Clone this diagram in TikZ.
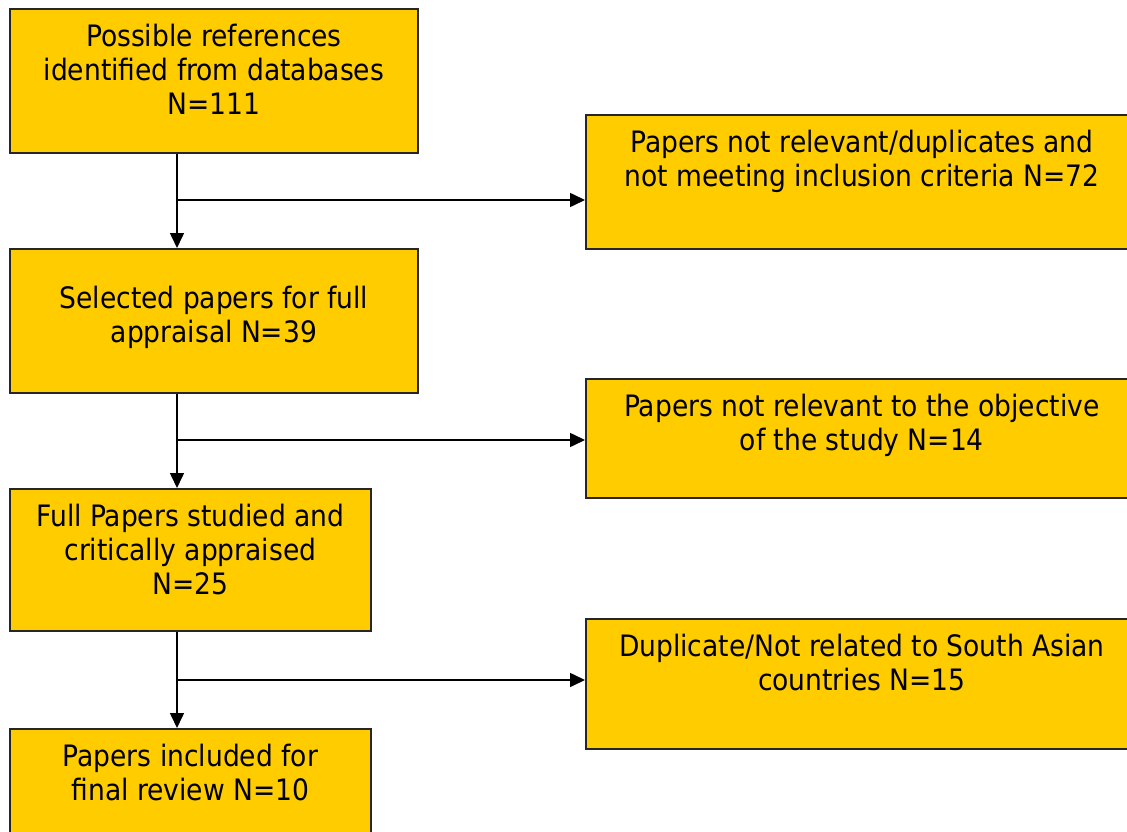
\documentclass[tikz,border=0pt]{standalone}
\usepackage{fontspec}
\setmainfont{DejaVu Sans Condensed}
\usetikzlibrary{arrows.meta,positioning}
\definecolor{boxfill}{RGB}{255,204,0}
\begin{document}
\begin{tikzpicture}[
    x=1pt, y=-1pt,
    font=\fontsize{29.5}{34}\selectfont,
    box/.style={draw=black!85, line width=1.8pt, fill=boxfill, anchor=north west, inner sep=0pt},
    txt/.style={anchor=north, align=center, inner sep=0pt},
    flow/.style={-{Triangle[length=15pt,width=14pt]}, line width=1.6pt}
]

\useasboundingbox (0,0) rectangle (1127,832);
\clip (0,0) rectangle (1127,832);

% Left column
\node[box, minimum width=408, minimum height=144] (b1) at (9,8) {};
\node[box, minimum width=408, minimum height=144] (b2) at (9,248) {};
\node[box, minimum width=361, minimum height=142] (b3) at (9,488) {};
\node[box, minimum width=361, minimum height=130] (b4) at (9,728) {};

% Right column (excluded papers)
\node[box, minimum width=552, minimum height=134] (r1) at (585,114) {};
\node[box, minimum width=552, minimum height=119] (r2) at (585,378) {};
\node[box, minimum width=552, minimum height=130] (r3) at (585,618) {};

% Texts
\node[txt, below=16pt of b1.north] (t1) {Possible references\\identified from databases\\N=111};
\node[txt, below=38pt of b2.north] (t2) {Selected papers for full\\appraisal N=39};
\node[txt, below=16pt of b3.north] (t3) {Full Papers studied and\\critically appraised\\N=25};
\node[txt, below=16pt of b4.north] (t4) {Papers included for\\final review N=10};
\node[txt, below=16pt of r1.north] (u1) {Papers not relevant/duplicates and\\not meeting inclusion criteria N=72};
\node[txt, below=16pt of r2.north] (u2) {Papers not relevant to the objective\\of the study N=14};
\node[txt, below=16pt of r3.north] (u3) {Duplicate/Not related to South Asian\\countries N=15};

% Branch points
\coordinate (j1) at (177,200);
\coordinate (j2) at (177,440);
\coordinate (j3) at (177,680);

% Connectors
\draw[flow] (j1 |- b1.south) -- (j1 |- b2.north);
\draw[flow] (j1) -- (j1 -| r1.west);
\draw[flow] (j2 |- b2.south) -- (j2 |- b3.north);
\draw[flow] (j2) -- (j2 -| r2.west);
\draw[flow] (j3 |- b3.south) -- (j3 |- b4.north);
\draw[flow] (j3) -- (j3 -| r3.west);

\end{tikzpicture}
\end{document}
